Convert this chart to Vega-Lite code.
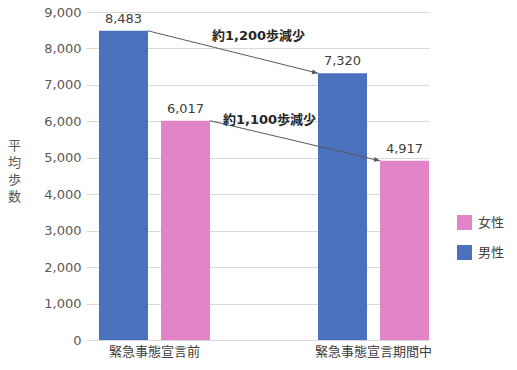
{
  "$schema": "https://vega.github.io/schema/vega-lite/v6.json",
  "width": 343,
  "height": 328,
  "autosize": "none",
  "padding": {"left": 86, "top": 12, "right": 88, "bottom": 30},
  "background": "white",
  "config": {
    "view": {"stroke": null},
    "font": "DejaVu Sans, Noto Sans CJK JP"
  },
  "resolve": {"axis": {"x": "independent", "y": "independent"}},
  "datasets": {
    "steps": [
      {"period": "緊急事態宣言前", "sex": "男性", "steps": 8483},
      {"period": "緊急事態宣言前", "sex": "女性", "steps": 6017},
      {"period": "緊急事態宣言期間中", "sex": "男性", "steps": 7320},
      {"period": "緊急事態宣言期間中", "sex": "女性", "steps": 4917}
    ],
    "arrows": [
      {"sex": "男性", "from": "緊急事態宣言前", "to": "緊急事態宣言期間中", "y1": 8483, "y2": 7320, "label": "約1,200歩減少", "ly": 8345},
      {"sex": "女性", "from": "緊急事態宣言前", "to": "緊急事態宣言期間中", "y1": 6017, "y2": 4917, "label": "約1,100歩減少", "ly": 6040}
    ]
  },
  "layer": [
    {
      "data": {"name": "steps"},
      "mark": {"type": "bar"},
      "encoding": {
        "x": {
          "field": "period", "type": "nominal",
          "scale": {"domain": ["緊急事態宣言前", "緊急事態宣言期間中"], "paddingInner": 0.4932, "paddingOuter": 0.0297, "align": 1},
          "axis": {"title": null, "labelAngle": 0, "labelFontSize": 13, "labelColor": "#404040", "labelPadding": 5, "ticks": false, "domain": false, "grid": false}
        },
        "xOffset": {
          "field": "sex", "type": "nominal",
          "scale": {"domain": ["男性", "女性"], "paddingInner": 0.2097, "paddingOuter": 0}
        },
        "y": {
          "field": "steps", "type": "quantitative",
          "scale": {"domain": [0, 9000], "nice": false},
          "axis": {
            "values": [0, 1000, 2000, 3000, 4000, 5000, 6000, 7000, 8000, 9000],
            "format": ",.0f",
            "title": ["平", "均", "歩", "数"],
            "titleAngle": 0,
            "titleFontSize": 13,
            "titleFontWeight": "normal",
            "titleColor": "#595959",
            "titleAlign": "center",
            "titleBaseline": "top",
            "titleX": -72,
            "titleY": 127,
            "titleLineHeight": 17,
            "labelFontSize": 13,
            "labelColor": "#595959",
            "labelPadding": 5,
            "labelOverlap": false,
            "ticks": false,
            "domain": false,
            "gridColor": "#d9d9d9",
            "gridWidth": 1
          }
        },
        "color": {
          "field": "sex", "type": "nominal",
          "scale": {"domain": ["女性", "男性"], "range": ["#E284C8", "#4A71BE"]},
          "legend": {
            "title": null,
            "orient": "none",
            "legendX": 371,
            "legendY": 203,
            "symbolType": "square",
            "symbolSize": 225,
            "symbolStrokeWidth": 0,
            "labelFontSize": 13,
            "labelColor": "#404040",
            "labelOffset": 6,
            "rowPadding": 15
          }
        }
      }
    },
    {
      "data": {"name": "steps"},
      "mark": {"type": "text", "baseline": "bottom", "dy": -5, "fontSize": 13, "color": "#404040"},
      "encoding": {
        "x": {"field": "period", "type": "nominal", "axis": null},
        "xOffset": {"field": "sex", "type": "nominal"},
        "y": {"field": "steps", "type": "quantitative", "axis": null},
        "text": {"field": "steps", "type": "quantitative", "format": ","}
      }
    },
    {
      "data": {"name": "arrows"},
      "transform": [{"filter": "datum.sex === '男性'"}],
      "layer": [
        {
          "mark": {"type": "rule", "color": "#595959", "strokeWidth": 1},
          "encoding": {
            "x": {"field": "from", "type": "nominal", "bandPosition": 0.4414, "axis": null},
            "x2": {"field": "to", "bandPosition": 0},
            "y": {"field": "y1", "type": "quantitative", "axis": null},
            "y2": {"field": "y2"}
          }
        },
        {
          "mark": {"type": "point", "shape": "M0,0L-2,-0.8L-2,0.8Z", "size": 36, "filled": true, "color": "#595959", "opacity": 1, "angle": 13.7},
          "encoding": {
            "x": {"field": "to", "type": "nominal", "bandPosition": 0, "axis": null},
            "y": {"field": "y2", "type": "quantitative", "axis": null}
          }
        },
        {
          "mark": {"type": "text", "align": "left", "baseline": "middle", "dx": 2, "fontSize": 13, "fontWeight": "bold", "color": "#262626"},
          "encoding": {
            "x": {"field": "from", "type": "nominal", "bandPosition": 1, "axis": null},
            "y": {"field": "ly", "type": "quantitative", "axis": null},
            "text": {"field": "label"}
          }
        }
      ]
    },
    {
      "data": {"name": "arrows"},
      "transform": [{"filter": "datum.sex === '女性'"}],
      "layer": [
        {
          "mark": {"type": "rule", "color": "#595959", "strokeWidth": 1},
          "encoding": {
            "x": {"field": "from", "type": "nominal", "bandPosition": 1, "axis": null},
            "x2": {"field": "to", "bandPosition": 0.5586},
            "y": {"field": "y1", "type": "quantitative", "axis": null},
            "y2": {"field": "y2"}
          }
        },
        {
          "mark": {"type": "point", "shape": "M0,0L-2,-0.8L-2,0.8Z", "size": 36, "filled": true, "color": "#595959", "opacity": 1, "angle": 13.3},
          "encoding": {
            "x": {"field": "to", "type": "nominal", "bandPosition": 0.5586, "axis": null},
            "y": {"field": "y2", "type": "quantitative", "axis": null}
          }
        },
        {
          "mark": {"type": "text", "align": "left", "baseline": "middle", "dx": 13, "fontSize": 13, "fontWeight": "bold", "color": "#262626"},
          "encoding": {
            "x": {"field": "from", "type": "nominal", "bandPosition": 1, "axis": null},
            "y": {"field": "ly", "type": "quantitative", "axis": null},
            "text": {"field": "label"}
          }
        }
      ]
    }
  ]
}
